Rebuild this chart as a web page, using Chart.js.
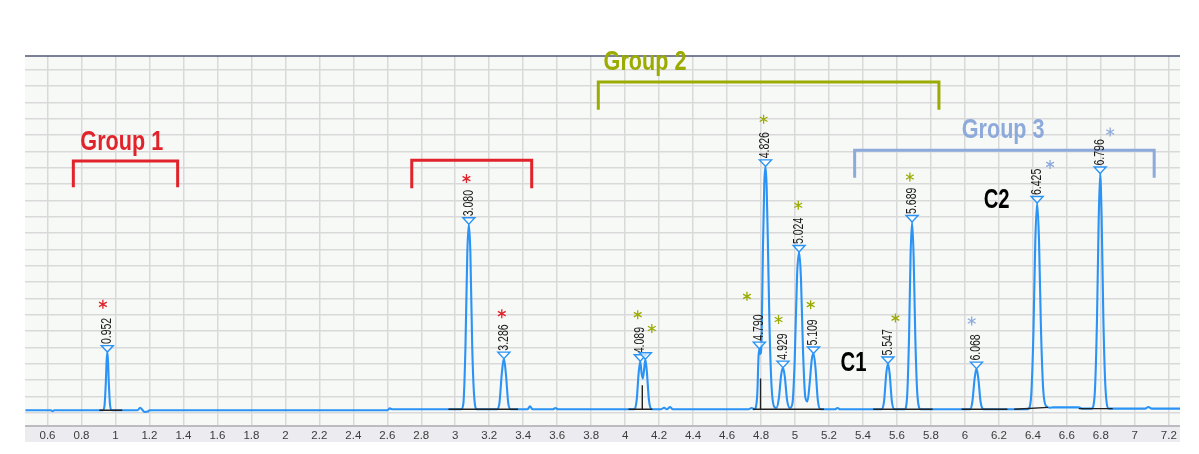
<!DOCTYPE html>
<html>
<head>
<meta charset="utf-8">
<script src="https://cdn.jsdelivr.net/npm/chart.js@4.4.1/dist/chart.umd.min.js"></script>
<style>
  html, body { margin: 0; padding: 0; background: #fff; }
  #wrap { width: 1199px; height: 454px; }
</style>
</head>
<body>
<div id="wrap"><canvas id="myChart" width="1199" height="454"></canvas></div>
<script>
// chromatogram trace: [retention time (min), signal]
const trace = [
  [0.47,1.6],[0.62,1.6],[0.63,1.0],[0.64,1.6],
  [0.925,1.6],[0.935,4],[0.943,18],[0.948,32],[0.952,37.2],[0.956,32],[0.961,18],[0.968,5],[0.978,1.6],
  [1.13,1.6],[1.145,3.2],[1.16,1.6],[1.17,0.6],[1.19,0.8],[1.2,1.6],
  [2.6,1.6],[2.615,2.8],[2.63,2.2],
  [3.035,2.2],[3.048,6],[3.06,40],[3.071,98],[3.08,115.4],[3.089,98],[3.1,40],[3.113,8],[3.128,2.2],
  [3.245,2.2],[3.26,6],[3.274,24],[3.286,33.2],[3.298,24],[3.312,6],[3.327,2.2],
  [3.425,2.2],[3.44,4],[3.455,2.2],[3.575,2.2],[3.59,3],[3.605,2.2],
  [4.055,2.2],[4.068,8],[4.08,25],[4.089,31.6],[4.097,24],[4.104,21],[4.111,26],[4.119,32.8],[4.128,25],[4.14,8],[4.155,2.2],
  [4.21,2.2],[4.23,3.2],[4.245,2.2],[4.265,3.6],[4.28,2.2],
  [4.725,2.2],[4.745,3],[4.76,2.2],
  [4.768,3],[4.778,12],[4.785,34],[4.79,39.3],[4.796,36],[4.803,45],[4.811,100],[4.819,140],[4.826,150.8],
  [4.833,138],[4.84,105],[4.85,52],[4.862,16],[4.876,4],[4.89,3],[4.905,9],[4.918,23],[4.929,27.7],[4.94,22],
  [4.953,8],[4.97,3],[4.985,6],[4.998,32],[5.012,84],[5.024,98.4],[5.035,82],[5.047,38],[5.06,10],[5.073,7],
  [5.086,18],[5.099,33],[5.109,36.3],[5.12,28],[5.134,8],[5.15,2.2],
  [5.235,2.2],[5.25,3],[5.265,2.2],
  [5.51,2.2],[5.524,7],[5.537,24],[5.547,30.2],[5.557,24],[5.57,7],[5.585,2.2],
  [5.645,2.2],[5.659,9],[5.671,46],[5.68,96],[5.689,116.8],[5.698,96],[5.708,46],[5.721,10],[5.74,2.2],
  [6.03,2.2],[6.044,7],[6.057,21],[6.068,27.1],[6.079,21],[6.092,7],[6.11,2.2],
  [6.37,2.2],[6.388,8],[6.403,48],[6.414,104],[6.425,128.4],[6.436,106],[6.447,54],[6.461,14],[6.48,4],[6.5,3.2],
  [6.52,3.4],[6.67,3.4],[6.69,2.6],
  [6.745,2.6],[6.763,10],[6.777,55],[6.787,116],[6.796,146.4],[6.805,118],[6.815,57],[6.828,14],[6.848,2.6],
  [7.06,2.6],[7.08,3.6],[7.1,2.6],[7.266,2.6]
];

// integration baselines and drop lines
const integration = [
  [[0.905,1.6],[1.04,1.6]],
  [[2.96,2.2],[3.37,2.2]],
  [[4.02,2.2],[4.16,2.2]],
  [[4.101,2.2],[4.101,17]],
  [[4.752,2.2],[5.17,2.2]],
  [[4.797,2.2],[4.797,21]],
  [[5.46,2.2],[5.81,2.2]],
  [[5.98,2.2],[6.25,2.2]],
  [[6.29,2.2],[6.49,3.4]],
  [[6.67,2.6],[6.87,2.6]]
];

const peakTimes  = [0.952, 3.080, 3.286, 4.089, 4.119, 4.790, 4.826, 4.929, 5.024, 5.109, 5.547, 5.689, 6.068, 6.425, 6.796];
const peakApex   = [37.2, 115.4, 33.2, 31.6, 32.8, 39.3, 150.8, 27.7, 98.4, 36.3, 30.2, 116.8, 27.1, 128.4, 146.4];
const peakLabels = ['0.952','3.080','3.286','4.089','','4.790','4.826','4.929','5.024','5.109','5.547','5.689','6.068','6.425','6.796'];

// asterisks marking the compounds of each group
const starTimes  = [0.926, 3.066, 3.274, 4.074, 4.157, 4.717, 4.815, 4.903, 5.019, 5.092, 5.591, 5.676, 6.040, 6.501, 6.855];
const starLevels = [66.4, 143.3, 60.7, 60.1, 51.6, 71.3, 179.6, 57.1, 127.0, 66.2, 58.0, 144.3, 56.2, 152.0, 171.8];
const starGroup  = [1, 1, 1, 2, 2, 2, 2, 2, 2, 2, 2, 2, 3, 3, 3];

// group brackets
const bracketFrom  = [0.752, 2.744, 3.842, 5.351];
const bracketTo    = [1.366, 3.450, 5.847, 7.114];
const bracketTop   = [154.1, 154.5, 202.4, 160.6];
const bracketFoot  = [138.0, 137.4, 185.5, 143.9];
const bracketGroup = [1, 1, 2, 3];

const groupNames      = ['Group 1', 'Group 2', 'Group 3'];
const groupLabelTime  = [1.037, 4.117, 6.225];
const groupLabelLevel = [161.0, 210.0, 168.4];

const compoundNames = ['C1', 'C2'];
const compoundTime  = [5.344, 6.187];
const compoundLevel = [25.4, 125.6];

const xTicks = [0.6,0.8,1,1.2,1.4,1.6,1.8,2,2.2,2.4,2.6,2.8,3,3.2,3.4,3.6,3.8,4,4.2,4.4,4.6,4.8,5,5.2,5.4,5.6,5.8,6,6.2,6.4,6.6,6.8,7,7.2];
const xTickLabels = ['0.6','0.8','1','1.2','1.4','1.6','1.8','2','2.2','2.4','2.6','2.8','3','3.2','3.4','3.6','3.8','4','4.2','4.4','4.6','4.8','5','5.2','5.4','5.6','5.8','6','6.2','6.4','6.6','6.8','7','7.2'];
const yGrid = [0,10,20,30,40,50,60,70,80,90,100,110,120,130,140,150,160,170,180,190,200,210];

const groupColors = { 1: '#e1232b', 2: '#9bab02', 3: '#8eaadb' };
const traceColor = '#2a93f5';

function squeezed(ctx, text, x, y, font, color, sx) {
  ctx.save();
  ctx.font = font;
  ctx.fillStyle = color;
  ctx.textAlign = 'center';
  ctx.textBaseline = 'alphabetic';
  ctx.translate(x, y);
  ctx.scale(sx, 1);
  ctx.fillText(text, 0, 0);
  ctx.restore();
}

const decor = {
  id: 'decor',
  beforeDraw(chart) {
    const c = chart.ctx, a = chart.chartArea;
    c.save();
    c.fillStyle = '#f7f9f7';
    c.fillRect(a.left, a.top, a.right - a.left, a.bottom - a.top);
    c.fillStyle = '#ebebf0';
    c.fillRect(a.left, a.bottom, a.right - a.left, 16);
    c.restore();
  },
  afterDatasetsDraw(chart) {
    const c = chart.ctx, a = chart.chartArea;
    const xs = chart.scales.x, ys = chart.scales.y;
    c.save();
    // frame
    c.strokeStyle = '#4e5676';
    c.lineWidth = 1.5;
    c.beginPath(); c.moveTo(a.left, a.top); c.lineTo(a.right, a.top); c.stroke();
    c.strokeStyle = '#bcbcc0';
    c.lineWidth = 2;
    c.beginPath(); c.moveTo(a.left, a.bottom); c.lineTo(a.right, a.bottom); c.stroke();

    // brackets
    c.lineWidth = 3;
    c.lineCap = 'butt';
    c.lineJoin = 'miter';
    for (let i = 0; i < bracketFrom.length; i++) {
      const x1 = xs.getPixelForValue(bracketFrom[i]);
      const x2 = xs.getPixelForValue(bracketTo[i]);
      const yt = ys.getPixelForValue(bracketTop[i]);
      const yf = ys.getPixelForValue(bracketFoot[i]);
      c.strokeStyle = groupColors[bracketGroup[i]];
      c.beginPath();
      c.moveTo(x1, yf); c.lineTo(x1, yt); c.lineTo(x2, yt); c.lineTo(x2, yf);
      c.stroke();
    }
    for (let i = 0; i < groupNames.length; i++) {
      squeezed(c, groupNames[i], xs.getPixelForValue(groupLabelTime[i]), ys.getPixelForValue(groupLabelLevel[i]),
        'bold 27px "Liberation Sans", Arial, sans-serif', groupColors[i + 1], 0.8);
    }
    for (let i = 0; i < compoundNames.length; i++) {
      squeezed(c, compoundNames[i], xs.getPixelForValue(compoundTime[i]), ys.getPixelForValue(compoundLevel[i]),
        'bold 27px "Liberation Sans", Arial, sans-serif', '#000', 0.75);
    }

    // peak markers and retention time labels
    for (let i = 0; i < peakTimes.length; i++) {
      const px = xs.getPixelForValue(peakTimes[i]);
      const py = ys.getPixelForValue(peakApex[i]);
      c.beginPath();
      c.moveTo(px, py); c.lineTo(px - 6, py - 6.5); c.lineTo(px + 6, py - 6.5); c.closePath();
      c.fillStyle = 'rgba(255,255,255,0.7)';
      c.fill();
      c.strokeStyle = traceColor;
      c.lineWidth = 1.4;
      c.stroke();
      if (peakLabels[i]) {
        c.save();
        c.translate(px, py - 8);
        c.rotate(-Math.PI / 2);
        c.scale(0.75, 1);
        c.font = '14px "Liberation Sans", Arial, sans-serif';
        c.fillStyle = '#1a1a1a';
        c.textAlign = 'left';
        c.textBaseline = 'middle';
        c.fillText(peakLabels[i], 0, 0);
        c.restore();
      }
    }

    // asterisks
    c.lineWidth = 1.3;
    for (let i = 0; i < starTimes.length; i++) {
      const sx = xs.getPixelForValue(starTimes[i]);
      const sy = ys.getPixelForValue(starLevels[i]);
      c.strokeStyle = groupColors[starGroup[i]];
      c.beginPath();
      for (const ang of [90, 30, -30]) {
        const r = ang * Math.PI / 180;
        c.moveTo(sx - 4.5 * Math.cos(r), sy - 4.5 * Math.sin(r));
        c.lineTo(sx + 4.5 * Math.cos(r), sy + 4.5 * Math.sin(r));
      }
      c.stroke();
    }
    c.restore();
  }
};

const traceData = trace.map(p => ({ x: p[0], y: p[1] }));
const intData = [];
integration.forEach(seg => {
  seg.forEach(p => intData.push({ x: p[0], y: p[1] }));
  intData.push({ x: seg[1][0], y: null });
});

const ctx = document.getElementById('myChart').getContext('2d');
const myChart = new Chart(ctx, {
  type: 'scatter',
  data: {
    datasets: [
      {
        label: 'Integration',
        data: intData,
        showLine: true,
        spanGaps: false,
        borderColor: '#222',
        borderWidth: 1.4,
        pointRadius: 0,
        tension: 0
      },
      {
        label: 'Signal',
        data: traceData,
        showLine: true,
        borderColor: traceColor,
        borderWidth: 2.1,
        pointRadius: 0,
        cubicInterpolationMode: 'monotone'
      }
    ]
  },
  options: {
    responsive: false,
    animation: false,
    layout: { padding: { left: 25, right: 19, top: 56, bottom: 12 } },
    plugins: { legend: { display: false }, tooltip: { enabled: false } },
    scales: {
      x: {
        type: 'linear',
        min: 0.4675,
        max: 7.266,
        afterBuildTicks: s => { s.ticks = xTicks.map(v => ({ value: v })); },
        afterFit: s => { s.height = 16; },
        ticks: {
          callback: (v, i) => xTickLabels[i],
          autoSkip: false,
          maxRotation: 0,
          padding: 3,
          color: '#3c3c3c',
          font: { family: '"Liberation Sans", Arial, sans-serif', size: 11.5 }
        },
        grid: { color: '#d9d9d9', lineWidth: 1.5, drawTicks: false },
        border: { display: false }
      },
      y: {
        min: -8,
        max: 218.3,
        afterBuildTicks: s => { s.ticks = yGrid.map(v => ({ value: v })); },
        afterFit: s => { s.width = 0; },
        ticks: { display: false },
        grid: { color: '#d9d9d9', lineWidth: 1.5, drawTicks: false },
        border: { display: false }
      }
    }
  },
  plugins: [decor]
});
</script>
</body>
</html>
